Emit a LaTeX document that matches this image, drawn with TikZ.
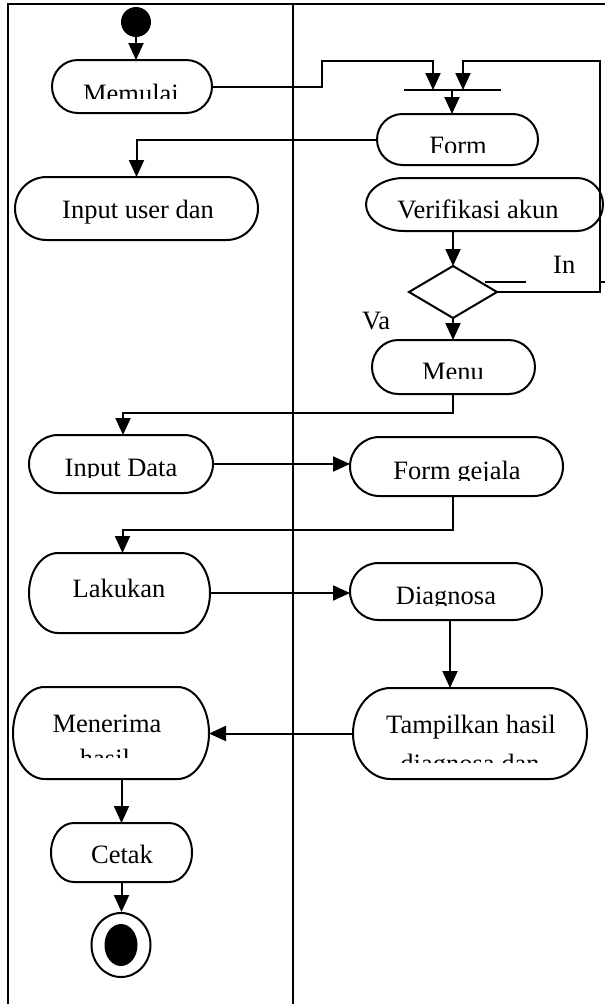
\documentclass[tikz,border=0pt]{standalone}
\usepackage{fontspec}
\setmainfont{Liberation Serif}
\usetikzlibrary{arrows.meta,shapes.geometric}
\tikzset{
 ln/.style={line width=2pt},
 arr/.style={line width=2pt,-{Triangle[length=17pt,width=15pt]}},
 frame/.style={line width=2.6pt},
 lbl/.style={anchor=base,inner sep=0pt,font=\fontsize{26.5}{30}\selectfont},
 anchorbox/.style={inner sep=0pt,outer sep=0pt}
}
% terminator shape: name, x1, y1, x2, y2
\newcommand\term[5]{%
 \pgfmathsetmacro\termW{#4-#2}%
 \pgfmathsetmacro\termH{#5-#3}%
 \pgfmathsetmacro\termRx{min(0.1607*\termW,\termH/2)}%
 \pgfmathsetmacro\termRy{\termH/2}%
 \node[anchorbox,minimum width=\termW pt,minimum height=\termH pt] (#1) at ({(#2+#4)/2},{(#3+#5)/2}) {};
 \draw[ln] ({#2+\termRx},#3) -- ({#4-\termRx},#3)
   arc[start angle=90,end angle=-90,x radius=\termRx pt,y radius=\termRy pt]
   -- ({#2+\termRx},#5)
   arc[start angle=270,end angle=90,x radius=\termRx pt,y radius=\termRy pt] -- cycle;
}
% clipped text: name, x, baseline, clip-y, text
\newcommand\ctext[5]{%
 \begin{scope}
 \clip (0,0) rectangle (605,#4);
 \node[lbl] (#1) at (#2,#3) {#5};
 \end{scope}
}
\begin{document}
\begin{tikzpicture}[x=1pt,y=-1pt]
\useasboundingbox (0,0) rectangle (605,1004);
\fill[white] (0,0) rectangle (605,1004);
% swimlane frame
\draw[frame] (605,4) -- (8,4) -- (8,1004);
\draw[frame] (293,4) -- (293,1004);

% start / end
\node[circle,fill,minimum size=30pt,inner sep=0pt] (start) at (136,22) {};
\node[draw,ln,ellipse,minimum width=59pt,minimum height=64pt,inner sep=0pt] (end) at (121,945) {};
\fill (end.center) ellipse [x radius=16.5pt,y radius=21pt];

% activity nodes
\term{memulai}{52}{60}{212}{113}
\term{form}{377}{114}{538}{165}
\term{inuser}{15}{177}{258}{240}
\term{menu}{372}{340}{535}{394}
\term{indata}{29}{435}{213}{493}
\term{formg}{350}{437}{563}{496}
\term{lakukan}{29}{553}{210}{633}
\term{diagnosa}{350}{563}{542}{620}
\term{menerima}{13}{687}{209}{779}
\term{tampil}{353}{688}{587}{779}
\term{cetak}{51}{823}{192}{882}
% Verifikasi akun (elliptic)
\node[anchorbox,minimum width=237pt,minimum height=53pt] (verif) at (484.5,204.5) {};
\draw[ln] (404,178) -- (577,178) arc[start angle=90,end angle=-90,x radius=26pt,y radius=26.5pt]
  -- (404,231) arc[start angle=270,end angle=90,x radius=38pt,y radius=26.5pt] -- cycle;

% fork bar
\node[anchorbox,minimum width=97pt,minimum height=1pt] (bar) at (452,90) {};
\draw[ln] (bar.west) -- (bar.east);
\coordinate (barL) at (433,90);
\coordinate (barR) at (463,90);

% decision
\node[anchorbox,minimum width=88pt,minimum height=52pt] (dia) at (453,292) {};
\draw[ln] (dia.north) -- (dia.east) -- (dia.south) -- (dia.west) -- cycle;

% texts
\ctext{tMemulai}{131}{102}{98}{Memulai}
\node[lbl] (tInput) at (138,218) {Input user dan};
\ctext{tForm}{458}{154}{152}{Form}
\ctext{tVerif}{478}{218}{219}{Verifikasi akun}
\node[lbl,anchor=base west] (tIn) at (553,273) {In};
\node[lbl,anchor=base west] (tVa) at (362,329) {Va};
\ctext{tMenu}{453}{380}{378}{Menu}
\ctext{tInData}{121}{476}{477}{Input Data}
\ctext{tFormG}{457}{479}{480}{Form gejala}
\node[lbl] (tLak) at (119,597) {Lakukan};
\ctext{tDiag}{446}{604}{605}{Diagnosa}
\node[lbl] (tMen) at (107,732) {Menerima};
\ctext{tHasil}{105}{767}{757}{hasil}
\node[lbl] (tTam) at (471,733) {Tampilkan hasil};
\ctext{tDiagDan}{470}{772}{762}{diagnosa dan}
\node[lbl] (tCetak) at (122,863) {Cetak};

% connectors
\coordinate (j1) at (322,61);
\coordinate (j2) at (600,61);
\draw[arr] (start.south) -- (start.south |- memulai.north);
\draw[arr] (memulai.east) -| (j1) -| (barL);
\draw[arr] (dia.east) -| (j2) -| (barR);
\draw[ln] (485,282) -- (526,282);
\draw[ln] (600,282) -- (605,282);
\draw[arr] (bar.center) -- (bar.center |- form.north);
\draw[arr] (form.west) -| (inuser.north);
\draw[arr] (dia.north |- verif.south) -- (dia.north);
\draw[arr] (dia.south) -- (dia.south |- menu.north);
\draw[arr] (menu.south -| dia.south) -- ++(0,19) -| ([xshift=2pt]indata.north);
\draw[arr] (indata.east) -- (indata.east -| formg.west);
\draw[arr] ([xshift=-4pt]formg.south) -- ++(0,34) -| ([xshift=3pt]lakukan.north);
\draw[arr] (lakukan.east) -- (lakukan.east -| diagnosa.west);
\draw[arr] ([xshift=4pt]diagnosa.south) -- ([xshift=4pt]diagnosa.south |- tampil.north);
\draw[arr] (tampil.west) -- (tampil.west -| menerima.east);
\draw[arr] (cetak.north |- menerima.south) -- (cetak.north);
\draw[arr] (cetak.south) -- (cetak.south |- end.north);
\end{tikzpicture}
\end{document}
